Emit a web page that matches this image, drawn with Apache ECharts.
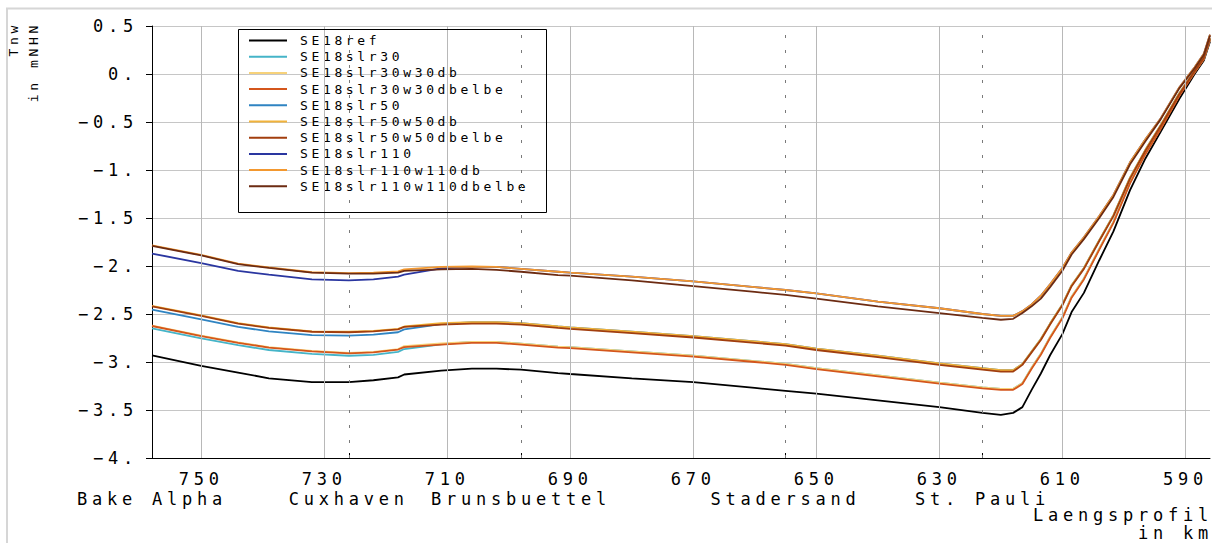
<!DOCTYPE html>
<html>
<head>
<meta charset="utf-8">
<script src="https://cdn.jsdelivr.net/npm/echarts@6/dist/echarts.min.js"></script>
<style>
html,body{margin:0;padding:0;background:#fff;}
#chart{width:1212px;height:543px;}
#chart text{letter-spacing:0.28em;}
</style>
</head>
<body>
<div id="chart"></div>
<script>
// ---------------- data ----------------
const km = [758, 750, 744, 739, 732, 726, 722, 718, 717, 711, 706, 702, 698, 692, 690, 680, 670, 660, 655, 650, 640, 630, 623, 620, 618, 616.5, 615, 613.5, 612, 610, 608.5, 606.5, 604, 601.7, 599, 596.5, 594, 591, 588.5, 587, 586];

const SE18ref = [-2.93,-3.04,-3.11,-3.17,-3.21,-3.21,-3.19,-3.16,-3.13,-3.09,-3.07,-3.07,-3.08,-3.115,-3.125,-3.17,-3.21,-3.27,-3.30,-3.33,-3.40,-3.47,-3.53,-3.55,-3.53,-3.47,-3.29,-3.12,-2.93,-2.71,-2.48,-2.28,-1.94,-1.64,-1.21,-0.88,-0.60,-0.26,0.0,0.14,0.34];

const SE18slr30 = [-2.65,-2.755,-2.825,-2.875,-2.915,-2.935,-2.925,-2.895,-2.865,-2.815,-2.79,-2.79,-2.81,-2.84,-2.845,-2.89,-2.935,-2.99,-3.02,-3.065,-3.14,-3.215,-3.265,-3.28,-3.28,-3.22,-3.06,-2.915,-2.74,-2.535,-2.32,-2.13,-1.82,-1.54,-1.13,-0.825,-0.56,-0.22,0.02,0.16,0.36];
const SE18slr30w30db = [-2.62,-2.725,-2.795,-2.845,-2.885,-2.905,-2.895,-2.865,-2.835,-2.805,-2.79,-2.79,-2.81,-2.84,-2.845,-2.89,-2.935,-2.99,-3.02,-3.065,-3.14,-3.215,-3.265,-3.28,-3.28,-3.22,-3.06,-2.915,-2.74,-2.535,-2.32,-2.13,-1.82,-1.54,-1.13,-0.825,-0.56,-0.22,0.02,0.16,0.36];
const SE18slr30w30dbelbe = [-2.625,-2.73,-2.80,-2.85,-2.89,-2.91,-2.90,-2.87,-2.845,-2.82,-2.80,-2.80,-2.82,-2.85,-2.855,-2.90,-2.945,-3.00,-3.03,-3.075,-3.15,-3.225,-3.275,-3.29,-3.29,-3.23,-3.07,-2.925,-2.75,-2.545,-2.33,-2.14,-1.83,-1.55,-1.14,-0.835,-0.57,-0.23,0.015,0.155,0.355];

const SE18slr50 = [-2.455,-2.555,-2.635,-2.68,-2.72,-2.725,-2.715,-2.69,-2.66,-2.605,-2.585,-2.585,-2.595,-2.63,-2.64,-2.685,-2.73,-2.785,-2.815,-2.86,-2.935,-3.015,-3.065,-3.085,-3.085,-3.02,-2.89,-2.76,-2.60,-2.40,-2.20,-2.02,-1.73,-1.47,-1.08,-0.79,-0.53,-0.20,0.035,0.175,0.375];
const SE18slr50w50db = [-2.415,-2.515,-2.595,-2.64,-2.68,-2.685,-2.675,-2.655,-2.63,-2.595,-2.585,-2.585,-2.595,-2.63,-2.64,-2.685,-2.73,-2.785,-2.815,-2.86,-2.935,-3.015,-3.065,-3.085,-3.085,-3.02,-2.89,-2.76,-2.60,-2.40,-2.20,-2.02,-1.73,-1.47,-1.08,-0.79,-0.53,-0.20,0.035,0.175,0.375];
const SE18slr50w50dbelbe = [-2.42,-2.52,-2.60,-2.645,-2.685,-2.69,-2.68,-2.66,-2.635,-2.61,-2.60,-2.60,-2.61,-2.645,-2.655,-2.70,-2.745,-2.80,-2.83,-2.875,-2.95,-3.03,-3.08,-3.10,-3.10,-3.03,-2.90,-2.77,-2.61,-2.41,-2.21,-2.03,-1.74,-1.48,-1.09,-0.80,-0.54,-0.21,0.03,0.17,0.37];

const SE18slr110 = [-1.87,-1.97,-2.05,-2.09,-2.14,-2.15,-2.14,-2.11,-2.09,-2.025,-2.01,-2.01,-2.03,-2.06,-2.07,-2.11,-2.16,-2.22,-2.25,-2.285,-2.37,-2.44,-2.50,-2.52,-2.52,-2.47,-2.40,-2.31,-2.19,-2.02,-1.86,-1.70,-1.48,-1.26,-0.92,-0.68,-0.46,-0.14,0.07,0.21,0.41];
const SE18slr110w110db = [-1.785,-1.885,-1.975,-2.015,-2.065,-2.075,-2.07,-2.055,-2.035,-2.01,-2.005,-2.01,-2.03,-2.06,-2.07,-2.11,-2.16,-2.22,-2.25,-2.285,-2.37,-2.44,-2.50,-2.52,-2.52,-2.47,-2.40,-2.31,-2.19,-2.02,-1.86,-1.70,-1.48,-1.26,-0.92,-0.68,-0.46,-0.14,0.07,0.21,0.41];
const SE18slr110w110dbelbe = [-1.79,-1.89,-1.98,-2.02,-2.07,-2.08,-2.08,-2.07,-2.05,-2.035,-2.03,-2.04,-2.06,-2.095,-2.10,-2.15,-2.21,-2.27,-2.30,-2.34,-2.42,-2.49,-2.54,-2.56,-2.55,-2.49,-2.42,-2.34,-2.22,-2.05,-1.88,-1.72,-1.50,-1.28,-0.94,-0.70,-0.47,-0.15,0.06,0.20,0.40];

const seriesNames = ['SE18ref','SE18slr30','SE18slr30w30db','SE18slr30w30dbelbe','SE18slr50','SE18slr50w50db','SE18slr50w50dbelbe','SE18slr110','SE18slr110w110db','SE18slr110w110dbelbe'];
const seriesValues = [SE18ref, SE18slr30, SE18slr30w30db, SE18slr30w30dbelbe, SE18slr50, SE18slr50w50db, SE18slr50w50dbelbe, SE18slr110, SE18slr110w110db, SE18slr110w110dbelbe];
const seriesColors = ['#000000','#45b4c8','#f7d27a','#d4561c','#2f84c2','#f2b33a','#a23e0e','#2a36a0','#f3982f','#6c2b12'];

const xTickValues = [750, 730, 710, 690, 670, 650, 630, 610, 590];
const yTickLabels = ['\u22124.','\u22123.5','\u22123.','\u22122.5','\u22122.','\u22121.5','\u22121.','\u22120.5','0.','0.5'];
const stationKm = [758, 726, 698, 655, 623];
const stationNames = ['Bake Alpha', 'Cuxhaven', 'Brunsbuettel', 'Stadersand', 'St. Pauli'];
const landmarkKm = [726, 698, 655, 623];

// ---------------- chart ----------------
const FONT = 'DejaVu Sans Mono';
const chart = echarts.init(document.getElementById('chart'), null, {renderer: 'svg'});

// thin horizontal bar icon; the two hair-thin edges keep the icon box at full item size
const LEGEND_LINE = 'path://M0,0h38v0.01h-38z M0,5.5h38v2h-38z M0,12.99h38v0.01h-38z';

const lineSeries = seriesNames.map((name, s) => ({
  name: name,
  type: 'line',
  symbol: 'none',
  smooth: false,
  silent: true,
  z: 3,
  color: seriesColors[s],
  itemStyle: {color: seriesColors[s]},
  lineStyle: {color: seriesColors[s], width: 1.8},
  data: km.map((k, i) => [k, seriesValues[s][i]])
}));

const gridSeries = {
  name: '__grid',
  type: 'line',
  data: [],
  silent: true,
  z: 1,
  markLine: {
    silent: true,
    animation: false,
    symbol: ['none', 'none'],
    label: {show: false},
    emphasis: {disabled: true},
    data: xTickValues.map(v => ({xAxis: v, lineStyle: {color: '#b8b8b8', width: 1, type: 'solid'}}))
      .concat(landmarkKm.map(v => ({xAxis: v, lineStyle: {color: '#7a7a7a', width: 1, type: [3, 12]}})))
  }
};

const option = {
  animation: false,
  backgroundColor: '#ffffff',
  textStyle: {fontFamily: FONT, color: '#000'},
  grid: {left: 152, top: 26, right: 2, bottom: 85, containLabel: false, outerBoundsMode: 'none'},
  legend: {
    data: seriesNames,
    icon: LEGEND_LINE,
    orient: 'vertical',
    left: 249,
    top: 34,
    padding: 0,
    itemWidth: 38,
    itemHeight: 13,
    itemGap: 3.2,
    selectedMode: false,
    itemStyle: {borderWidth: 0},
    textStyle: {fontFamily: FONT, fontSize: 13, color: '#000', padding: [0, 0, 0, 8]}
  },
  xAxis: [{
    type: 'value', min: 586, max: 758, inverse: true, position: 'bottom',
    axisLine: {show: true, onZero: false, lineStyle: {color: '#000', width: 1}},
    axisTick: {show: true, inside: true, length: 8, customValues: xTickValues, lineStyle: {color: '#000'}},
    axisLabel: {customValues: xTickValues, margin: 12, fontFamily: FONT, fontSize: 17, color: '#000'},
    splitLine: {show: false}
  }, {
    type: 'value', min: 586, max: 758, inverse: true, position: 'bottom',
    axisLine: {show: false, onZero: false},
    axisTick: {show: true, inside: true, length: 5, customValues: landmarkKm, lineStyle: {color: '#000'}},
    axisLabel: {customValues: stationKm, margin: 32, fontFamily: FONT, fontSize: 17, color: '#000',
      formatter: v => stationNames[stationKm.indexOf(v)] || ''},
    splitLine: {show: false}
  }],
  yAxis: {
    type: 'value', min: -4, max: 0.5, interval: 0.5,
    axisLine: {show: true, onZero: false, lineStyle: {color: '#000', width: 1}},
    axisTick: {show: true, inside: false, length: 6, lineStyle: {color: '#000'}},
    axisLabel: {margin: 14, fontFamily: FONT, fontSize: 17, color: '#000',
      formatter: v => yTickLabels[Math.round((v + 4) / 0.5)]},
    splitLine: {show: true, lineStyle: {color: '#c6c6c6', width: 1}}
  },
  graphic: [
    {type: 'rect', silent: true, z: 0, shape: {x: 7, y: 8.5, width: 1215, height: 545},
      style: {fill: 'none', stroke: '#d6d6d6', lineWidth: 2}},
    {type: 'rect', silent: true, z: 10, shape: {x: 238.5, y: 29.5, width: 308, height: 183},
      style: {fill: 'none', stroke: '#000', lineWidth: 1}},
    {type: 'text', silent: true, x: 13.5, y: 22, rotation: Math.PI / 2,
      style: {text: 'Tnw', fontFamily: FONT, fontSize: 13, fill: '#000', textAlign: 'right', textVerticalAlign: 'middle'}},
    {type: 'text', silent: true, x: 33, y: 22, rotation: Math.PI / 2,
      style: {text: 'in mNHN', fontFamily: FONT, fontSize: 13, fill: '#000', textAlign: 'right', textVerticalAlign: 'middle'}},
    {type: 'text', silent: true, x: 1213, y: 515,
      style: {text: 'Laengsprofil', fontFamily: FONT, fontSize: 17, fill: '#000', textAlign: 'right', textVerticalAlign: 'middle'}},
    {type: 'text', silent: true, x: 1213, y: 533,
      style: {text: 'in km', fontFamily: FONT, fontSize: 17, fill: '#000', textAlign: 'right', textVerticalAlign: 'middle'}}
  ],
  series: [gridSeries].concat(lineSeries)
};

chart.setOption(option);
</script>
</body>
</html>
